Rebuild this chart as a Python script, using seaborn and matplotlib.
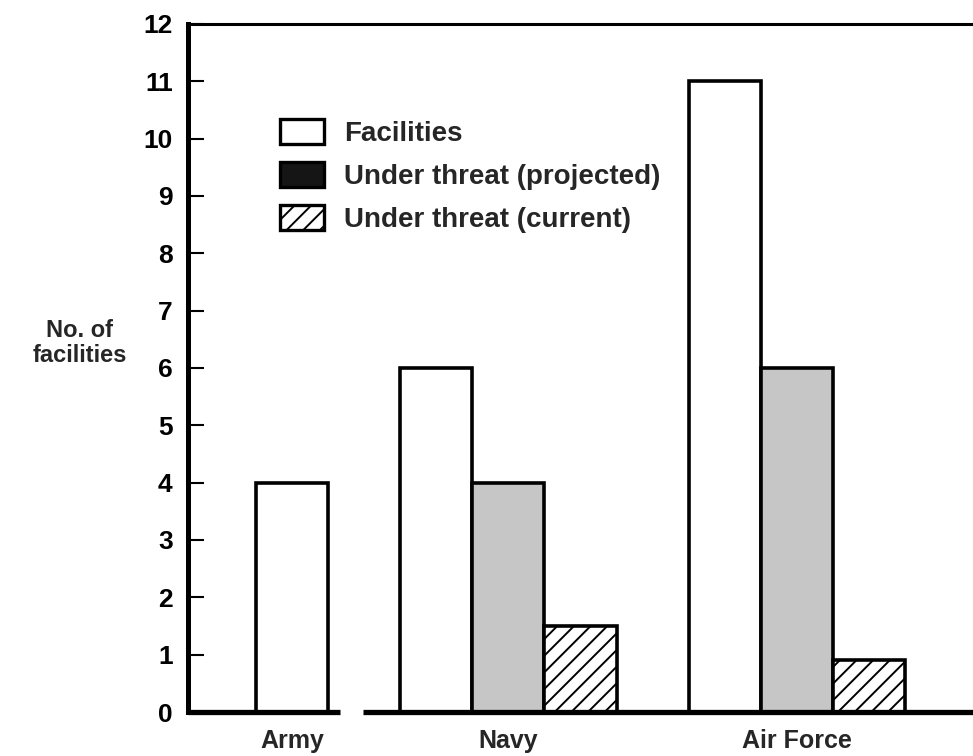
import matplotlib
matplotlib.use("Agg")
import matplotlib.pyplot as plt
from matplotlib.patches import Patch
import numpy as np
import pandas as pd
import seaborn as sns

# ---- data ----
branches = ["Army", "Navy", "Air Force"]
series = ["Facilities", "Under threat (projected)", "Under threat (current)"]
facilities = [4, 6, 11]
projected = [np.nan, 4, 6]
current = [np.nan, 1.5, 0.9]
yticks = list(range(0, 13))

# ---- layout (bar-width units) ----
group_center = {"Army": 1.45, "Navy": 4.45, "Air Force": 8.45}
offsets = {"Facilities": -1.0, "Under threat (projected)": 0.0, "Under threat (current)": 1.0}

rows = []
for b, f, p, c in zip(branches, facilities, projected, current):
    vals = dict(zip(series, [f, p, c]))
    present = [s for s in series if not np.isnan(vals[s])]
    for s in present:
        off = 0.0 if len(present) == 1 else offsets[s]
        rows.append({"branch": b, "series": s, "value": vals[s],
                     "x": round(group_center[b] + off, 3)})
df = pd.DataFrame(rows)

sns.set_theme(style="white")
plt.rcParams["font.family"] = ["Liberation Sans", "DejaVu Sans"]
plt.rcParams["hatch.linewidth"] = 1.4

fig = plt.figure(figsize=(9.73, 7.56), dpi=100)
ax = fig.add_axes([0.1932, 0.0582, 0.8068, 0.9101])

palette = {"Facilities": "white",
           "Under threat (projected)": "#c6c6c6",
           "Under threat (current)": "white"}
sns.barplot(data=df, x="x", y="value", hue="series", hue_order=series,
            native_scale=True, dodge=False, width=1.0, palette=palette,
            edgecolor="black", linewidth=2.6, saturation=1, ax=ax,
            legend=False, err_kws={"linewidth": 0})

for cont, s in zip(ax.containers, series):
    for bar in cont:
        bar.set_edgecolor("black")
        if s == "Under threat (current)":
            bar.set_hatch("//")

ax.set_xlim(0, 10.9)
ax.set_ylim(0, 12)
ax.set_yticks(yticks)
ax.set_yticklabels([str(t) for t in yticks], fontsize=19, fontweight="bold")
ax.set_xticks([group_center[b] for b in branches])
ax.set_xticklabels(branches, fontsize=18, fontweight="bold")
ax.tick_params(axis="x", length=0, pad=12)
ax.tick_params(axis="y", direction="in", length=11.5, width=1.5, pad=11,
               left=True, colors="black")
ax.set_xlabel("")
ax.set_ylabel("No. of\nfacilities", rotation=0, fontsize=17, fontweight="bold",
              ha="center", va="center", linespacing=1.1)
ax.yaxis.set_label_coords(-0.1376, 0.536)

for side in ["right", "bottom"]:
    ax.spines[side].set_visible(False)
ax.spines["left"].set_linewidth(3.6)
ax.spines["top"].set_linewidth(2.2)
ax.spines["left"].set_color("black")
ax.spines["top"].set_color("black")

# baseline with a break between Army and Navy
ax.axhline(0, xmin=0, xmax=0.194, color="black", linewidth=3.8, clip_on=False,
           solid_capstyle="butt")
ax.axhline(0, xmin=0.223, xmax=1.0, color="black", linewidth=3.8, clip_on=False,
           solid_capstyle="butt")

handles = [
    Patch(facecolor="white", edgecolor="black", linewidth=2.4),
    Patch(facecolor="#151515", edgecolor="black", linewidth=2.4),
    Patch(facecolor="white", edgecolor="black", linewidth=2.4, hatch="//"),
]
leg = ax.legend(handles, series, loc="upper left", bbox_to_anchor=(0.117, 0.862),
                frameon=False, prop={"size": 20, "weight": "bold"},
                handlelength=1.6, handleheight=1.0, handletextpad=0.72,
                labelspacing=0.55, borderaxespad=0, borderpad=0)

fig.savefig("out.png", dpi=100)
